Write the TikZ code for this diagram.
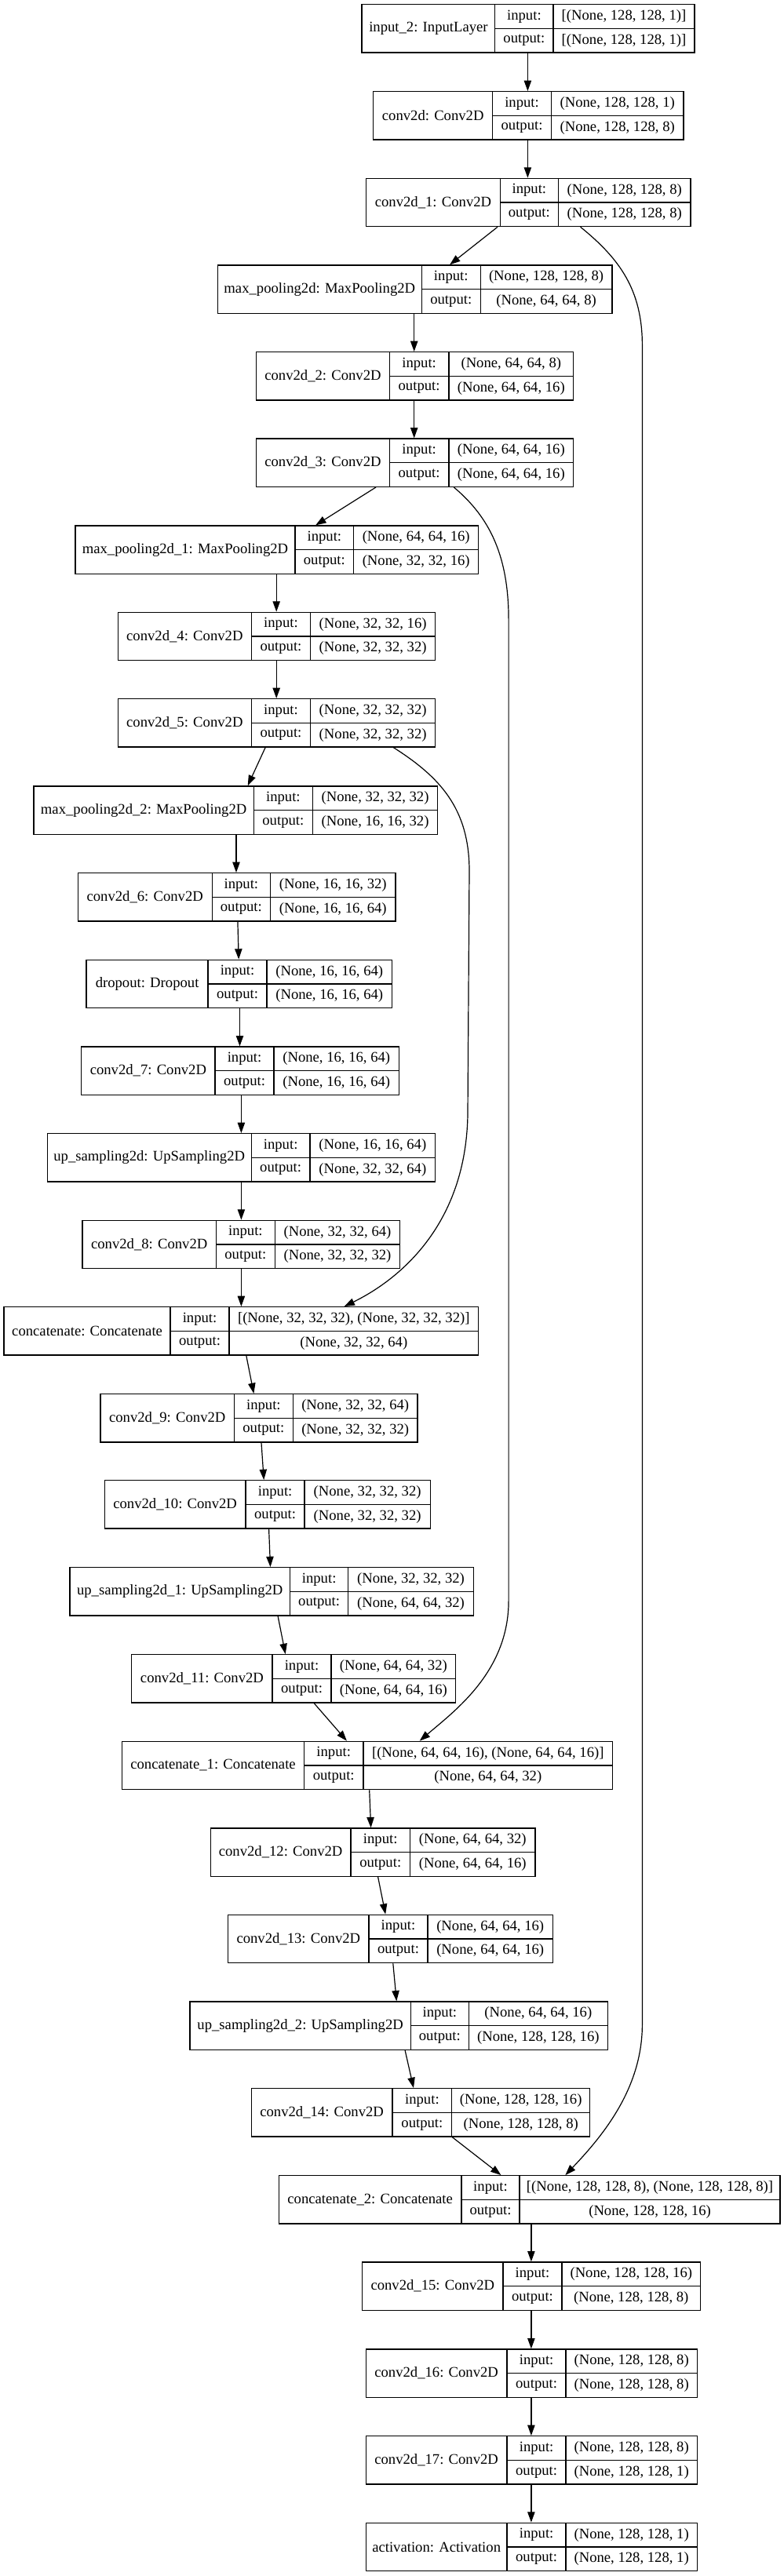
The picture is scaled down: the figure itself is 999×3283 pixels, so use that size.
\documentclass[tikz,border=0pt]{standalone}
\usepackage{fontspec}
\setmainfont{Liberation Serif}
\usetikzlibrary{arrows.meta,fit,calc}
\tikzset{
  boxline/.style={line width=1pt, draw=black},
  lbl/.style={font=\fontsize{14pt}{16pt}\selectfont, inner sep=0pt},
  arr/.style={line width=0.9pt, draw=black, -{Triangle[length=10pt,width=7pt]}}
}
\newcommand{\kl}[9]{%
  \node[fit={(#2,#6) (#5,{#6+61.3})}, inner sep=0pt, boxline] (#1) {};
  \draw[boxline] (#3,#6) -- (#3,{#6+61.3}) (#4,#6) -- (#4,{#6+61.3}) (#3,{#6+30.65}) -- (#5,{#6+30.65});
  \node[lbl] at ({(#2+#3)/2},{#6+30.65}) {#7};
  \node[lbl] at ({(#3+#4)/2},{#6+15.3}) {input:};
  \node[lbl] at ({(#3+#4)/2},{#6+46}) {output:};
  \node[lbl] at ({(#4+#5)/2},{#6+15.3}) {#8};
  \node[lbl] at ({(#4+#5)/2},{#6+46}) {#9};
}
\begin{document}
\begin{tikzpicture}[x=0.75pt,y=-0.75pt]
\useasboundingbox (0,0) rectangle (999,3283);
\kl{in2}{461.1}{630.8}{705.0}{885.0}{5.7}{input\_2: InputLayer}{[(None, 128, 128, 1)]}{[(None, 128, 128, 1)]}
\kl{c0}{475.8}{627.6}{702.5}{870.9}{116.7}{conv2d: Conv2D}{(None, 128, 128, 1)}{(None, 128, 128, 8)}
\kl{c1}{466.8}{637.2}{711.5}{879.9}{227.3}{conv2d\_1: Conv2D}{(None, 128, 128, 8)}{(None, 128, 128, 8)}
\kl{mp0}{277.3}{537.3}{612.2}{780.0}{338}{max\_pooling2d: MaxPooling2D}{(None, 128, 128, 8)}{(None, 64, 64, 8)}
\kl{c2}{326.6}{496.3}{571.9}{730.7}{448.7}{conv2d\_2: Conv2D}{(None, 64, 64, 8)}{(None, 64, 64, 16)}
\kl{c3}{326.6}{496.3}{571.9}{730.7}{559}{conv2d\_3: Conv2D}{(None, 64, 64, 16)}{(None, 64, 64, 16)}
\kl{mp1}{96.1}{375.9}{450.8}{609.6}{670}{max\_pooling2d\_1: MaxPooling2D}{(None, 64, 64, 16)}{(None, 32, 32, 16)}
\kl{c4}{150.5}{320.2}{395.7}{554.6}{780.3}{conv2d\_4: Conv2D}{(None, 32, 32, 16)}{(None, 32, 32, 32)}
\kl{c5}{150.5}{320.2}{395.7}{554.6}{890.7}{conv2d\_5: Conv2D}{(None, 32, 32, 32)}{(None, 32, 32, 32)}
\kl{mp2}{42.9}{323.4}{398.3}{557.8}{1002}{max\_pooling2d\_2: MaxPooling2D}{(None, 32, 32, 32)}{(None, 16, 16, 32)}
\kl{c6}{99.3}{270.2}{344.5}{504.0}{1112.7}{conv2d\_6: Conv2D}{(None, 16, 16, 32)}{(None, 16, 16, 64)}
\kl{dp}{110.1}{265.1}{340.0}{499.5}{1223.3}{dropout: Dropout}{(None, 16, 16, 64)}{(None, 16, 16, 64)}
\kl{c7}{103.7}{274.1}{349.0}{508.5}{1334}{conv2d\_7: Conv2D}{(None, 16, 16, 64)}{(None, 16, 16, 64)}
\kl{up0}{60.2}{320.2}{395.1}{554.6}{1444.7}{up\_sampling2d: UpSampling2D}{(None, 16, 16, 64)}{(None, 32, 32, 64)}
\kl{c8}{105.0}{275.4}{350.3}{509.7}{1555.3}{conv2d\_8: Conv2D}{(None, 32, 32, 64)}{(None, 32, 32, 32)}
\kl{cat0}{5.1}{217.1}{292.0}{609.6}{1665.7}{concatenate: Concatenate}{[(None, 32, 32, 32), (None, 32, 32, 32)]}{(None, 32, 32, 64)}
\kl{c9}{128.1}{298.4}{373.3}{532.1}{1776.7}{conv2d\_9: Conv2D}{(None, 32, 32, 64)}{(None, 32, 32, 32)}
\kl{c10}{133.2}{313.1}{388.1}{548.2}{1886.7}{conv2d\_10: Conv2D}{(None, 32, 32, 32)}{(None, 32, 32, 32)}
\kl{up1}{89.0}{369.5}{443.8}{603.2}{1997.7}{up\_sampling2d\_1: UpSampling2D}{(None, 32, 32, 32)}{(None, 64, 64, 32)}
\kl{c11}{167.8}{347.1}{422.0}{580.8}{2108.7}{conv2d\_11: Conv2D}{(None, 64, 64, 32)}{(None, 64, 64, 16)}
\kl{cat1}{155.6}{387.4}{463.0}{780.6}{2219.3}{concatenate\_1: Concatenate}{[(None, 64, 64, 16), (None, 64, 64, 16)]}{(None, 64, 64, 32)}
\kl{c12}{268.3}{447.0}{522.5}{682.0}{2330}{conv2d\_12: Conv2D}{(None, 64, 64, 32)}{(None, 64, 64, 16)}
\kl{c13}{290.7}{470.0}{545.0}{704.4}{2440.3}{conv2d\_13: Conv2D}{(None, 64, 64, 16)}{(None, 64, 64, 16)}
\kl{up2}{242.1}{523.2}{597.5}{774.2}{2551}{up\_sampling2d\_2: UpSampling2D}{(None, 64, 64, 16)}{(None, 128, 128, 16)}
\kl{c14}{320.2}{500.1}{575.7}{751.8}{2661.7}{conv2d\_14: Conv2D}{(None, 128, 128, 16)}{(None, 128, 128, 8)}
\kl{cat2}{355.4}{587.9}{662.1}{994.0}{2772.7}{concatenate\_2: Concatenate}{[(None, 128, 128, 8), (None, 128, 128, 8)]}{(None, 128, 128, 16)}
\kl{c15}{461.7}{641.0}{715.9}{892.7}{2883}{conv2d\_15: Conv2D}{(None, 128, 128, 16)}{(None, 128, 128, 8)}
\kl{c16}{466.2}{646.1}{721.1}{888.2}{2994}{conv2d\_16: Conv2D}{(None, 128, 128, 8)}{(None, 128, 128, 8)}
\kl{c17}{466.2}{646.1}{721.1}{888.2}{3104.7}{conv2d\_17: Conv2D}{(None, 128, 128, 8)}{(None, 128, 128, 1)}
\kl{act}{466.2}{646.1}{721.1}{888.2}{3215.3}{activation: Activation}{(None, 128, 128, 1)}{(None, 128, 128, 1)}
% main chain
\draw[arr] (672.4,0 |- in2.south) -- (672.4,0 |- c0.north);
\draw[arr] (672.4,0 |- c0.south) -- (672.4,0 |- c1.north);
\draw[arr] (634.0,0 |- c1.south) -- (573.1,0 |- mp0.north);
\draw[arr] (527.7,0 |- mp0.south) -- (527.7,0 |- c2.north);
\draw[arr] (527.7,0 |- c2.south) -- (527.7,0 |- c3.north);
\draw[arr] (479.0,0 |- c3.south) -- (402.2,0 |- mp1.north);
\draw[arr] (352.2,0 |- mp1.south) -- (352.2,0 |- c4.north);
\draw[arr] (352.2,0 |- c4.south) -- (352.2,0 |- c5.north);
\draw[arr] (338.1,0 |- c5.south) -- (315.7,0 |- mp2.north);
\draw[arr] (301.0,0 |- mp2.south) -- (301.0,0 |- c6.north);
\draw[arr] (302.9,0 |- c6.south) -- (304.2,0 |- dp.north);
\draw[arr] (305.5,0 |- dp.south) -- (305.5,0 |- c7.north);
\draw[arr] (307.4,0 |- c7.south) -- (307.4,0 |- up0.north);
\draw[arr] (307.4,0 |- up0.south) -- (307.4,0 |- c8.north);
\draw[arr] (307.4,0 |- c8.south) -- (307.4,0 |- cat0.north);
\draw[arr] (313.8,0 |- cat0.south) -- (323.4,0 |- c9.north);
\draw[arr] (333.0,0 |- c9.south) -- (336.2,0 |- c10.north);
\draw[arr] (342.6,0 |- c10.south) -- (344.5,0 |- up1.north);
\draw[arr] (354.1,0 |- up1.south) -- (363.7,0 |- c11.north);
\draw[arr] (400.2,0 |- c11.south) -- (441.9,0 |- cat1.north);
\draw[arr] (470.7,0 |- cat1.south) -- (472.6,0 |- c12.north);
\draw[arr] (481.6,0 |- c12.south) -- (491.2,0 |- c13.north);
\draw[arr] (500.8,0 |- c13.south) -- (505.3,0 |- up2.north);
\draw[arr] (516.1,0 |- up2.south) -- (527.0,0 |- c14.north);
\draw[arr] (576.3,0 |- c14.south) -- (638.4,0 |- cat2.north);
\draw[arr] (676.9,0 |- cat2.south) -- (676.9,0 |- c15.north);
\draw[arr] (676.9,0 |- c15.south) -- (676.9,0 |- c16.north);
\draw[arr] (676.9,0 |- c16.south) -- (676.9,0 |- c17.north);
\draw[arr] (676.9,0 |- c17.south) -- (676.9,0 |- act.north);
% skip connections
\draw[arr] (739.6,0 |- c1.south) .. controls (790,330) and (818.4,370) .. (818.4,440) -- (818.4,2580) .. controls (818.4,2660) and (770,2720) .. (720.4,0 |- cat2.north);
\draw[arr] (578.3,0 |- c3.south) .. controls (625,660) and (648.1,710) .. (648.1,790) -- (648.1,2040) .. controls (648.1,2130) and (580,2180) .. (534.7,0 |- cat1.north);
\draw[arr] (501.4,0 |- c5.south) .. controls (560,990) and (598,1030) .. (598,1110) -- (596,1420) .. controls (594,1560) and (510,1630) .. (438.6,0 |- cat0.north);
\end{tikzpicture}
\end{document}
